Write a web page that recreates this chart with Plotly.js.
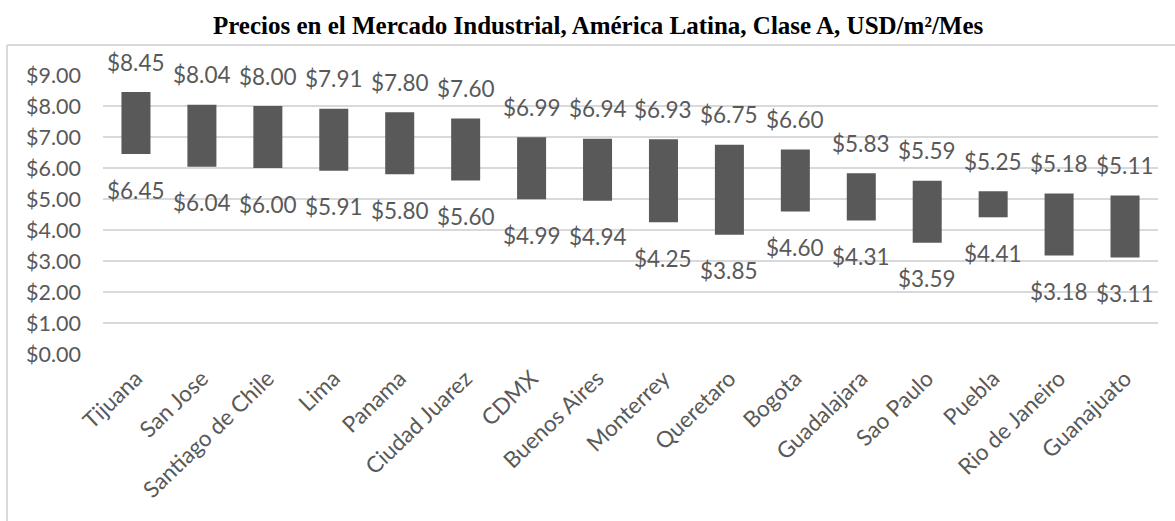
<!DOCTYPE html>
<html>
<head>
<meta charset="utf-8">
<script src="https://cdn.plot.ly/plotly-3.0.1.min.js"></script>
<style>html,body{margin:0;padding:0;background:#fff;}#chart{width:1175px;height:521px;}</style>
</head>
<body>
<div id="chart"></div>
<script>
const cities = ["Tijuana","San Jose","Santiago de Chile","Lima","Panama","Ciudad Juarez","CDMX","Buenos Aires","Monterrey","Queretaro","Bogota","Guadalajara","Sao Paulo","Puebla","Rio de Janeiro","Guanajuato"];
const highs = [8.45,8.04,8.00,7.91,7.80,7.60,6.99,6.94,6.93,6.75,6.60,5.83,5.59,5.25,5.18,5.11];
const lows  = [6.45,6.04,6.00,5.91,5.80,5.60,4.99,4.94,4.25,3.85,4.60,4.31,3.59,4.41,3.18,3.11];
const yTicks = [0,1,2,3,4,5,6,7,8,9];

const FONT = "Lato, 'Open Sans', sans-serif";
const GREY = "#595959";

const trace = {
  type: "bar",
  x: cities,
  base: lows,
  y: highs.map((h,i)=>h - lows[i]),
  width: 0.44,
  marker: {color: "#595959"},
  hoverinfo: "skip"
};

const fmt = v => "$" + v.toFixed(2);
const annotations = [];
cities.forEach((c,i)=>{
  annotations.push({x:c, y:highs[i], text:fmt(highs[i]), showarrow:false, yshift:30,
    font:{family:FONT, size:22.5, color:GREY}});
  annotations.push({x:c, y:lows[i], text:fmt(lows[i]), showarrow:false, yshift:-36,
    font:{family:FONT, size:22.5, color:GREY}});
});

const layout = {
  width: 1175, height: 521,
  margin: {l:103, r:17, t:75, b:167},
  paper_bgcolor: "#fff", plot_bgcolor: "#fff",
  showlegend: false,
  title: {text: "Precios en el Mercado Industrial, América Latina, Clase A, USD/m²/Mes",
    font: {family: "'Liberation Serif', serif", size: 25, color: "#000", weight: "bold"},
    x: 0.509, xanchor: "center", y: 0.952, yanchor: "middle"},
  xaxis: {
    type: "category", range: [-0.5, 15.5],
    tickangle: -44, tickfont: {family: FONT, size: 22.5, color: GREY},
    showgrid: false, zeroline: false, showline: false, ticks: "",
    ticklabelstandoff: 6
  },
  yaxis: {
    range: [0, 9], tickvals: yTicks, ticktext: yTicks.map(fmt),
    tickfont: {family: FONT, size: 21.5, color: GREY},
    showgrid: true, gridcolor: "#d9d9d9", gridwidth: 2,
    zeroline: false, showline: false, ticks: "", ticklen: 0,
    ticklabelstandoff: 21
  },
  annotations: annotations,
  shapes: [
    {type:"line", xref:"paper", yref:"paper", x0:-0.091, x1:1.02, y0:1.1075, y1:1.1075, line:{color:"#d9d9d9", width:2}},
    {type:"line", xref:"paper", yref:"paper", x0:-0.091, x1:-0.091, y0:1.1075, y1:-0.62, line:{color:"#d9d9d9", width:2}}
  ],
  bargap: 0.56
};

Plotly.newPlot("chart", [trace], layout, {displayModeBar:false, staticPlot:true});
</script>
</body>
</html>
